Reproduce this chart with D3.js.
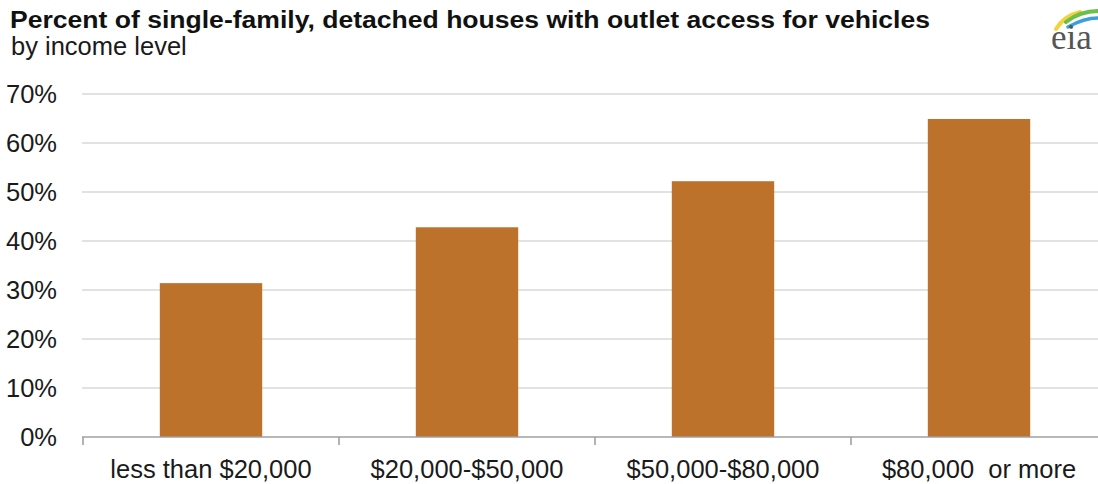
<!DOCTYPE html>
<html>
<head>
<meta charset="utf-8">
<script src="https://cdn.jsdelivr.net/npm/d3@7"></script>
<style>
  html, body { margin: 0; padding: 0; background: #fff; }
  svg { display: block; font-family: Arial, "Liberation Sans", sans-serif; }
</style>
</head>
<body>
<svg id="chart" width="1098" height="484"></svg>
<script>
// Share of single-family detached houses with an outlet usable for vehicles
const categories = ["less than $20,000", "$20,000-$50,000", "$50,000-$80,000", "$80,000  or more"];
const values = [31.4, 42.8, 52.2, 64.9];
const yTicks = [0, 10, 20, 30, 40, 50, 60, 70];

const svg = d3.select("#chart");
const W = 1098, H = 484;
const labelSize = 25.5;

const x = d3.scaleBand().domain(categories).range([83, 1107]).paddingInner(0.6).paddingOuter(0.3);
const y = d3.scaleLinear().domain([0, 70]).range([437, 94]);

// Horizontal gridlines
svg.append("g")
  .selectAll("line")
  .data(yTicks.filter(d => d > 0))
  .join("line")
  .attr("x1", 82).attr("x2", W)
  .attr("y1", d => y(d)).attr("y2", d => y(d))
  .attr("stroke", "#d9d9d9")
  .attr("stroke-width", 1.6);

// Y tick labels
svg.append("g")
  .selectAll("text")
  .data(yTicks)
  .join("text")
  .attr("x", 57)
  .attr("y", d => y(d))
  .attr("dy", "0.36em")
  .attr("text-anchor", "end")
  .attr("font-size", labelSize)
  .attr("fill", "#1a1a1a")
  .text(d => d + "%");

// Bars
svg.append("g")
  .selectAll("rect")
  .data(values)
  .join("rect")
  .attr("x", (d, i) => x(categories[i]))
  .attr("width", x.bandwidth())
  .attr("y", d => y(d))
  .attr("height", d => y(0) - y(d))
  .attr("fill", "#bc722b");

// X axis baseline
const axisG = svg.append("g").attr("transform", `translate(0,${y(0)})`)
  .call(d3.axisBottom(x).tickSize(0).tickFormat(""));
axisG.selectAll(".tick").remove();
axisG.select(".domain").attr("stroke", "#a0a0a0").attr("stroke-width", 1.6)
  .attr("d", `M82,0H${W}`);

// Tick marks at the category boundaries
const step = x.step();
svg.append("g")
  .selectAll("line")
  .data(categories.map(c => x(c) + x.bandwidth() / 2 - step / 2))
  .join("line")
  .attr("x1", d => d).attr("x2", d => d)
  .attr("y1", y(0)).attr("y2", y(0) + 8)
  .attr("stroke", "#a0a0a0")
  .attr("stroke-width", 1.6);

// Category labels
svg.append("g")
  .selectAll("text")
  .data(categories)
  .join("text")
  .attr("x", d => x(d) + x.bandwidth() / 2)
  .attr("y", 478)
  .attr("text-anchor", "middle")
  .attr("font-size", labelSize)
  .attr("fill", "#1a1a1a")
  .style("white-space", "pre")
  .text(d => d);

// Title and subtitle
svg.append("text")
  .attr("x", 10).attr("y", 28)
  .attr("font-size", 23)
  .attr("font-weight", "bold")
  .attr("fill", "#111")
  .attr("textLength", 920)
  .attr("lengthAdjust", "spacingAndGlyphs")
  .text("Percent of single-family, detached houses with outlet access for vehicles");

svg.append("text")
  .attr("x", 11).attr("y", 55)
  .attr("font-size", labelSize)
  .attr("fill", "#1a1a1a")
  .text("by income level");

// eia logo
const logo = svg.append("g");
logo.append("path")
  .attr("d", "M1056,29 Q1064,16 1080,12")
  .attr("fill", "none").attr("stroke", "#f2d33a").attr("stroke-width", 4).attr("stroke-linecap", "round");
logo.append("path")
  .attr("d", "M1066,22 Q1080,11 1098,11")
  .attr("fill", "none").attr("stroke", "#6cbf4a").attr("stroke-width", 4).attr("stroke-linecap", "round");
logo.append("path")
  .attr("d", "M1068,27 Q1084,18 1098,18")
  .attr("fill", "none").attr("stroke", "#3aa0dc").attr("stroke-width", 3.5).attr("stroke-linecap", "round");
logo.append("text")
  .attr("x", 1051).attr("y", 49)
  .attr("font-family", "'Liberation Serif', 'DejaVu Serif', serif")
  .attr("font-size", 35)
  .attr("fill", "#555")
  .text("eia");
</script>
</body>
</html>
